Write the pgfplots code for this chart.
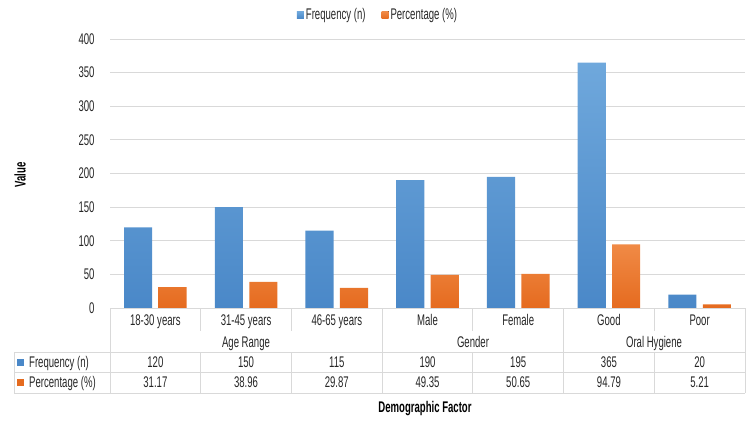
\documentclass[border=0pt]{standalone}
\usepackage{fontspec}
\setmainfont{Liberation Sans}[FakeStretch=0.62]
\usepackage{pgfplots}
\pgfplotsset{compat=1.18}
\definecolor{fblueL}{HTML}{6FA8DC}
\definecolor{fblueD}{HTML}{4A88C8}
\definecolor{forgL}{HTML}{F08A46}
\definecolor{forgD}{HTML}{E56B1F}
\definecolor{gridc}{HTML}{D9D9D9}
\definecolor{txt}{HTML}{262626}
\newcommand{\ff}{\fontsize{15.5}{18}\selectfont}

\begin{document}
\begin{tikzpicture}[x=1bp,y=1bp]
\path[use as bounding box] (0,0) rectangle (750,422);
\begin{axis}[
  at={(110bp,114bp)}, anchor=south west,
  scale only axis, width=635bp, height=269bp,
  xmin=-0.5, xmax=6.5, ymin=0, ymax=400,
  ytick={0,50,...,400}, xtick=\empty,
  axis line style={draw=none},
  major tick length=0pt,
  ymajorgrids, grid style={gridc, line width=0.8pt},
  yticklabel style={anchor=east, xshift=-12bp, text=txt, font=\ff},
  /pgf/number format/assume math mode=true,
  clip=false,
  legend columns=2,
  legend style={at={(268bp,293bp)}, anchor=center, draw=none, fill=none,
    font=\ff, text=txt,
    /tikz/every even column/.append style={column sep=14bp}},
  legend image code/.code={\fill[#1] (0bp,-3.5bp) rectangle (7bp,3.5bp);},
]
\addplot[ybar, bar width=0.31, bar shift=-0.19, draw=none, top color=fblueL, bottom color=fblueD]
  coordinates {(0,120) (1,150) (2,115) (3,190) (4,195) (5,365) (6,20)};
\addplot[ybar, bar width=0.31, bar shift=0.19, draw=none, top color=forgL, bottom color=forgD]
  coordinates {(0,31.17) (1,38.96) (2,29.87) (3,49.35) (4,50.65) (5,94.79) (6,5.21)};
\legend{Frequency (n), Percentage (\%)}
\end{axis}

% data table
\begin{scope}[gridc, line width=0.8pt]
  \draw (110,114) -- (745,114);
  \draw (14,70) -- (745,70);
  \draw (14,50) -- (745,50);
  \draw (14,29) -- (745,29);
  \draw (14,70) -- (14,29);
  \draw (110,114) -- (110,29);
  \draw (745,114) -- (745,29);
  \draw (382,114) -- (382,29);
  \draw (563.4,114) -- (563.4,29);
  \foreach \xx in {200.7,291.4,472.7,654.1} {
    \draw (\xx,114) -- (\xx,91);
    \draw (\xx,70) -- (\xx,29);
  }
\end{scope}

\begin{scope}[every node/.style={text=txt, font=\ff, inner sep=0pt, anchor=base}]
  \foreach \lab [count=\i from 0] in {18-30 years,31-45 years,46-65 years,Male,Female,Good,Poor}
    \node at ({110+90.714*(\i+0.5)},97) {\lab};
  \node at (246,75) {Age Range};
  \node at (473,75) {Gender};
  \node at (654,75) {Oral Hygiene};
  \foreach \v [count=\i from 0] in {120,150,115,190,195,365,20}
    \node at ({110+90.714*(\i+0.5)},55) {\v};
  \foreach \v [count=\i from 0] in {31.17,38.96,29.87,49.35,50.65,94.79,5.21}
    \node at ({110+90.714*(\i+0.5)},34.5) {\v};
  \fill[fblueD] (17,56.5) rectangle (24,63.5);
  \node[anchor=base west] at (29,55) {Frequency (n)};
  \fill[forgD] (17,36) rectangle (24,43);
  \node[anchor=base west] at (29,34.5) {Percentage (\%)};
  \node[font=\ff\bfseries, text=black] at (425,10) {Demographic Factor};
  \node[font=\ff\bfseries, text=black, rotate=90, anchor=center] at (20,247) {Value};
\end{scope}
\end{tikzpicture}
\end{document}
